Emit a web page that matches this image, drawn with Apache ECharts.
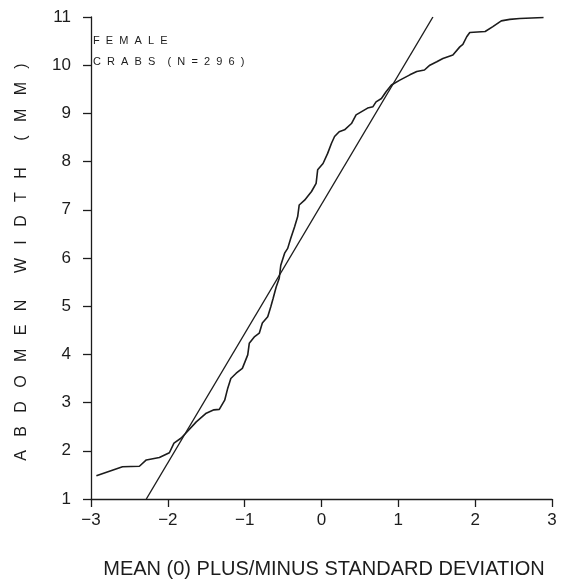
<!DOCTYPE html>
<html>
<head>
<meta charset="utf-8">
<script src="https://cdn.jsdelivr.net/npm/echarts@6/dist/echarts.min.js"></script>
<style>
  html, body { margin: 0; padding: 0; background: #fff; }
  #chart { width: 563px; height: 583px; }
</style>
</head>
<body>
<div id="chart"></div>
<script>
// Normal probability plot of abdomen width, female crabs (N=296)

// standard normal scores (x) of the ordered sample
const zScores = [
  -2.93, -2.59, -2.37, -2.28, -2.11, -1.98, -1.92, -1.83, -1.77, -1.63,
  -1.50, -1.40, -1.33, -1.26, -1.22, -1.18, -1.11, -1.03, -0.96, -0.94,
  -0.87, -0.81, -0.77, -0.70, -0.66, -0.63, -0.59, -0.55, -0.53, -0.48,
  -0.44, -0.40, -0.35, -0.31, -0.29, -0.22, -0.13, -0.07, -0.05, 0.02,
  0.08, 0.13, 0.17, 0.23, 0.30, 0.39, 0.45, 0.60, 0.67, 0.71,
  0.78, 0.84, 0.91, 1.02, 1.15, 1.24, 1.34, 1.41, 1.50, 1.58,
  1.71, 1.80, 1.84, 1.89, 1.93, 2.13, 2.23, 2.34, 2.45, 2.58,
  2.89
];
// observed abdomen widths (mm)
const widths = [
  1.48, 1.67, 1.68, 1.81, 1.86, 1.96, 2.16, 2.26, 2.36, 2.60,
  2.78, 2.85, 2.86, 3.05, 3.30, 3.50, 3.61, 3.71, 3.99, 4.23,
  4.37, 4.44, 4.65, 4.78, 4.99, 5.16, 5.40, 5.58, 5.85, 6.10,
  6.20, 6.41, 6.65, 6.86, 7.10, 7.20, 7.38, 7.55, 7.83, 7.96,
  8.17, 8.38, 8.52, 8.62, 8.66, 8.79, 8.97, 9.11, 9.14, 9.24,
  9.31, 9.45, 9.59, 9.69, 9.80, 9.87, 9.90, 10.00, 10.07, 10.14,
  10.21, 10.38, 10.43, 10.59, 10.68, 10.70, 10.80, 10.92, 10.95, 10.97,
  10.99
];

// reference normal line (end points)
const fitX = [-2.28, 1.45];
const fitY = [1, 11];

const xTicks = [-3, -2, -1, 0, 1, 2, 3];
const yTicks = [1, 2, 3, 4, 5, 6, 7, 8, 9, 10, 11];

const xTitle = 'MEAN (0) PLUS/MINUS STANDARD DEVIATION';
const yTitle = 'ABDOMEN WIDTH (MM)';
const note1 = 'FEMALE';
const note2 = 'CRABS (N=296)';

// spread letters apart like the plotter lettering
function spaced(str, gap, wordGap) {
  return str.split(' ').map(w => w.split('').join(gap)).join(wordGap);
}

const ink = '#1c1c1c';
const font = 'Liberation Sans, Arial, sans-serif';

const chart = echarts.init(document.getElementById('chart'), null, { renderer: 'canvas' });

chart.setOption({
  animation: false,
  backgroundColor: '#ffffff',
  grid: { left: 91, right: 11, top: 17, bottom: 84, containLabel: false },
  xAxis: {
    type: 'value',
    min: xTicks[0],
    max: xTicks[xTicks.length - 1],
    interval: 1,
    axisLine: { show: true, onZero: false, lineStyle: { color: ink, width: 1.3 } },
    axisTick: { show: true, length: 8, lineStyle: { color: ink, width: 1.3 } },
    axisLabel: {
      margin: 13, color: ink, fontSize: 17, fontFamily: font,
      formatter: v => (v < 0 ? '\u2212' + Math.abs(v) : String(v))
    },
    splitLine: { show: false }
  },
  yAxis: {
    type: 'value',
    min: yTicks[0],
    max: yTicks[yTicks.length - 1],
    interval: 1,
    axisLine: { show: true, onZero: false, lineStyle: { color: ink, width: 1.3 } },
    axisTick: { show: true, length: 8, lineStyle: { color: ink, width: 1.3 } },
    axisLabel: { margin: 20, color: ink, fontSize: 17, fontFamily: font },
    splitLine: { show: false }
  },
  graphic: [
    {
      type: 'text', left: 93, top: 35,
      style: { text: spaced(note1, '  ', '     '), fill: ink, font: '11px ' + font }
    },
    {
      type: 'text', left: 93, top: 56,
      style: { text: spaced(note2, '  ', '    '), fill: ink, font: '11px ' + font }
    },
    {
      type: 'text', x: 22, y: 262, rotation: Math.PI / 2,
      style: {
        text: spaced(yTitle, '   ', '      '), fill: ink,
        font: '16px ' + font, align: 'center', verticalAlign: 'middle'
      }
    },
    {
      type: 'text', x: 324, y: 569,
      style: {
        text: xTitle, fill: ink, font: '20px ' + font,
        align: 'center', verticalAlign: 'middle'
      }
    }
  ],
  series: [
    {
      type: 'line',
      data: zScores.map((z, i) => [z, widths[i]]),
      showSymbol: false,
      smooth: false,
      lineStyle: { color: ink, width: 1.6 },
      z: 3
    },
    {
      type: 'line',
      data: fitX.map((x, i) => [x, fitY[i]]),
      showSymbol: false,
      lineStyle: { color: ink, width: 1.4 },
      z: 2
    }
  ]
});
</script>
</body>
</html>
